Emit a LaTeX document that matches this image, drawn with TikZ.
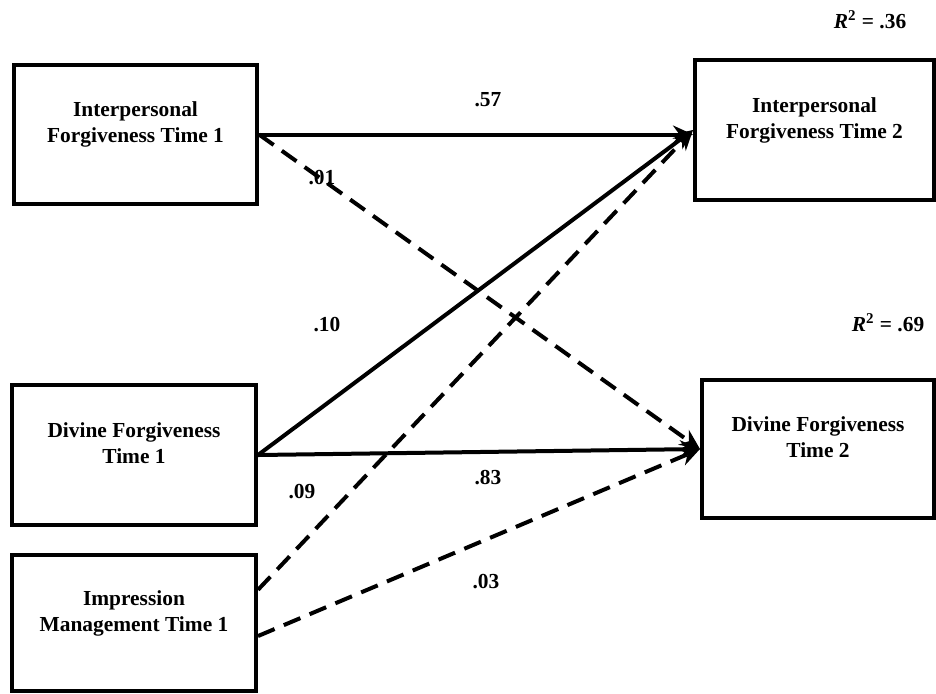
\documentclass[tikz,border=0pt]{standalone}
\usepackage{fontspec}
\setmainfont{Liberation Serif}
\usetikzlibrary{calc,positioning,arrows.meta}

\begin{document}
\begin{tikzpicture}[x=0.5pt,y=-0.5pt,
    font=\fontsize{10.7}{13}\selectfont\bfseries,
    varbox/.style={rectangle,draw,line width=2pt,align=center,text depth=12pt},
    solidarrow/.style={line width=2pt,-{Stealth[length=10pt,width=9pt]}},
    dasharrow/.style={solidarrow,dash pattern=on 9pt off 5pt}]
  \useasboundingbox (0,0) rectangle (936,693);

  \node[varbox,minimum width=121.5pt,minimum height=69.5pt] (ipfone) at (135.5,134.5) {Interpersonal\\Forgiveness Time 1};
  \node[varbox,minimum width=122pt,minimum height=70pt] (dfone) at (134,455) {Divine Forgiveness\\Time 1};
  \node[varbox,minimum width=122pt,minimum height=68pt] (imone) at (134,623) {Impression\\Management Time 1};
  \node[varbox,minimum width=119.5pt,minimum height=70pt] (ipftwo) at (814.5,130) {Interpersonal\\Forgiveness Time 2};
  \node[varbox,minimum width=116pt,minimum height=69pt] (dftwo) at (818,449) {Divine Forgiveness\\Time 2};

  \draw[solidarrow] (ipfone.east) -- (ipfone.east -| ipftwo.west);
  \draw[dasharrow] (ipfone.east) -- (dftwo.west);
  \draw[solidarrow] (dfone.east) -- (ipftwo.west);
  \draw[solidarrow] (dfone.east) -- (dftwo.west);
  \draw[dasharrow] (imone.15) -- (ipftwo.west);
  \draw[dasharrow] (imone.-6) -- (dftwo.west);

  \node (bipfipf) at (488,100) {.57};
  \node (bipfdf) at (322,178) {.01};
  \node (bdfipf) at (327,325) {.10};
  \node (bdfdf) at (488,478) {.83};
  \node (bimipf) at (302,492) {.09};
  \node (bimdf) at (486,582) {.03};
  \node (rsqipf) at (870,20) {\textit{R}\textsuperscript{2} = .36};
  \node (rsqdf) at (888,323) {\textit{R}\textsuperscript{2} = .69};
\end{tikzpicture}
\end{document}
